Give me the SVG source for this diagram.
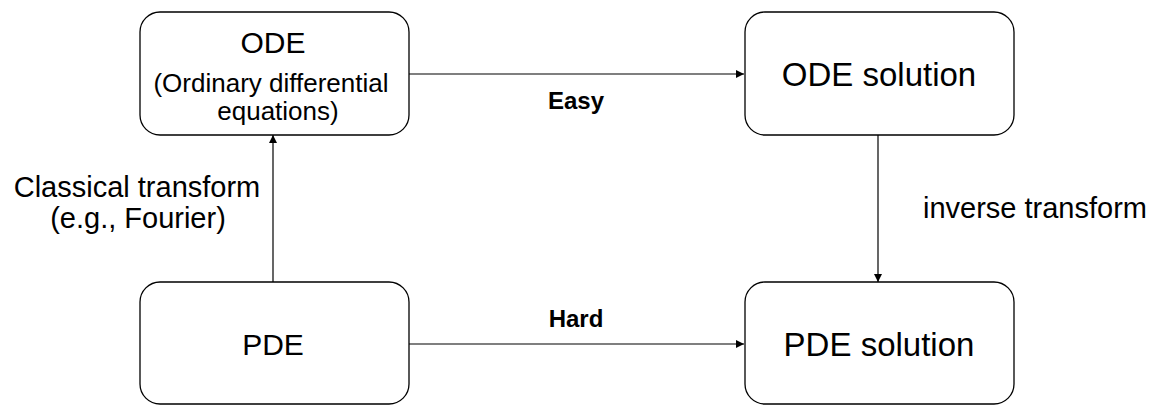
<svg xmlns="http://www.w3.org/2000/svg" width="1168" height="417" viewBox="0 0 1168 417">
<defs>
<marker id="ah" viewBox="0 0 10 10" refX="10" refY="5" markerWidth="8" markerHeight="8" markerUnits="userSpaceOnUse" orient="auto">
<path d="M0,0 L10,5 L0,10 Z" fill="#000"/>
</marker>
<style>
.box{fill:#fff;stroke:#000;stroke-width:1.3}
.t{font-family:"Liberation Sans",Arial,sans-serif;fill:#000;text-anchor:middle}
.big{font-size:30px}
.sol{font-size:33px}
.mid{font-size:26px}
.lab{font-size:29px}
.b{font-size:24px;font-weight:bold}
.c{stroke:#000;stroke-width:1.2;fill:none;marker-end:url(#ah)}
</style>
</defs>
<rect width="1168" height="417" fill="#fff"/>
<g id="connectors">
<line class="c" x1="409" y1="74" x2="744" y2="74"/>
<line class="c" x1="878" y1="135" x2="878" y2="282"/>
<line class="c" x1="273" y1="282" x2="273" y2="135"/>
<line class="c" x1="409" y1="344" x2="744" y2="344"/>
</g>
<g id="ode">
<rect class="box" x="140" y="12" width="269" height="123" rx="20"/>
<text class="t big" x="273" y="53">ODE</text>
<text class="t mid" x="271" y="92">(Ordinary differential</text>
<text class="t mid" x="278" y="120">equations)</text>
</g>
<g id="ode-solution">
<rect class="box" x="745" y="12" width="269" height="123" rx="20"/>
<text class="t sol" x="879" y="86">ODE solution</text>
</g>
<g id="pde">
<rect class="box" x="140" y="282" width="269" height="122" rx="20"/>
<text class="t big" x="273" y="355">PDE</text>
</g>
<g id="pde-solution">
<rect class="box" x="745" y="282" width="269" height="122" rx="20"/>
<text class="t sol" x="879" y="356">PDE solution</text>
</g>
<g id="labels">
<text class="t b" x="576" y="109">Easy</text>
<text class="t b" x="576" y="327">Hard</text>
<text class="t lab" x="137" y="197">Classical transform</text>
<text class="t lab" x="138" y="228">(e.g., Fourier)</text>
<text class="t lab" x="1035" y="218">inverse transform</text>
</g>
</svg>
